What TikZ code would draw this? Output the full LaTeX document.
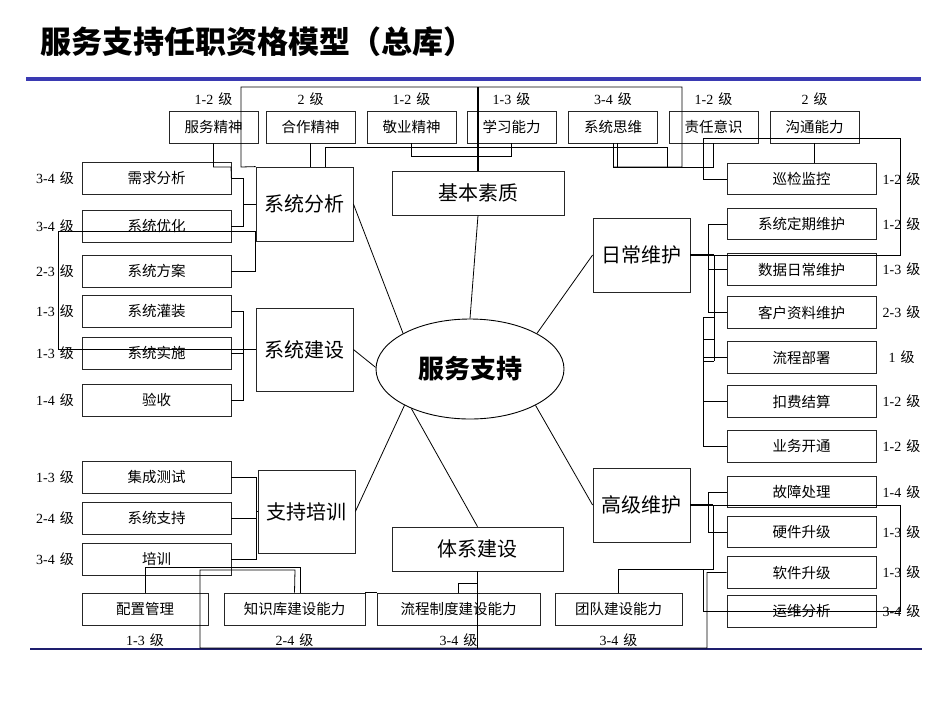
\documentclass[tikz,border=0pt]{standalone}
\usepackage{fontspec}
\usetikzlibrary{shapes.geometric}
\setmainfont{Liberation Serif}
\newfontfamily\cjk{Noto Sans CJK SC}
\newcommand\lv[1]{#1\hspace{5pt}{\cjk 级}}
\definecolor{topblue}{RGB}{58,58,178}
\definecolor{navy}{RGB}{30,30,110}
\begin{document}
\begin{tikzpicture}[x=1pt,y=-1pt,
  bx/.style={draw=black!85, line width=0.8pt, inner sep=0pt, minimum height=32pt,
    font=\cjk\fontsize{14.5}{15}\selectfont},
  catbox/.style={draw=black!85, line width=0.8pt, inner sep=0pt,
    font=\cjk\fontsize{20}{21}\selectfont},
  lab/.style={inner sep=0pt, font=\fontsize{14}{14}\selectfont},
  ln/.style={line width=0.8pt},
  tk/.style={line width=1.6pt}]
\useasboundingbox (0,0) rectangle (950,713);
% title and rules
\node[anchor=west, inner sep=0pt, font=\cjk\bfseries\fontsize{31}{31}\selectfont] (title) at (40,42) {服务支持任职资格模型（总库）};
\coordinate (ruleA) at (26,79); \coordinate (ruleB) at (921,79);
\draw[line width=4pt, topblue] (ruleA) -- (ruleB);
\coordinate (ruleC) at (30,649); \coordinate (ruleD) at (922,649);
\draw[line width=2pt, navy] (ruleC) -- (ruleD);

% top row
\foreach \n/\x/\t/\l in {t1/213.5/服务精神/1-2, t2/310.5/合作精神/2, t3/411.5/敬业精神/1-2,
  t4/511.5/学习能力/1-3, t5/613/系统思维/3-4, t6/713.5/责任意识/1-2, t7/814.5/沟通能力/2}{
  \node[bx, minimum width=89pt] (\n) at (\x,127) {\t};
  \node[lab] (\n lab) at (\x,99) {\lv{\l}};
}
% left column
\foreach \n/\y/\t/\l in {l1/178/需求分析/3-4, l2/226/系统优化/3-4, l3/271/系统方案/2-3,
  l4/311/系统灌装/1-3, l5/353/系统实施/1-3, l6/400/验收/1-4,
  l7/477/集成测试/1-3, l8/518/系统支持/2-4, l9/559/培训/3-4}{
  \node[bx, minimum width=149pt] (\n) at (156.5,\y) {\t};
  \node[lab] (\n lab) at (55,\y) {\lv{\l}};
}
% right column
\foreach \n/\y/\t/\l in {r1/179/巡检监控/1-2, r2/224/系统定期维护/1-2, r3/269.5/数据日常维护/1-3,
  r4/312.5/客户资料维护/2-3, r5/357.5/流程部署/1, r6/401.5/扣费结算/1-2, r7/446.5/业务开通/1-2,
  r8/492/故障处理/1-4, r9/532/硬件升级/1-3, r10/572.5/软件升级/1-3, r11/611.5/运维分析/3-4}{
  \node[bx, minimum width=149pt, minimum height=31.5pt] (\n) at (801.5,\y) {\t};
  \node[lab] (\n lab) at (901.5,\y) {\lv{\l}};
}
% bottom row
\foreach \n/\x/\w/\t/\l in {b1/145/126/配置管理/1-3, b2/294.5/141/知识库建设能力/2-4,
  b3/458.5/163/流程制度建设能力/3-4, b4/618.5/127/团队建设能力/3-4}{
  \node[bx, minimum width=\w pt] (\n) at (\x,609) {\t};
  \node[lab] (\n lab) at (\x,640) {\lv{\l}};
}
% category boxes
\node[catbox, minimum width=97pt, minimum height=74pt] (ca) at (304.5,204) {系统分析};
\node[catbox, minimum width=97pt, minimum height=83pt] (cb) at (304.5,349.5) {系统建设};
\node[catbox, minimum width=97pt, minimum height=83pt] (cc) at (306.5,511.5) {支持培训};
\node[catbox, minimum width=172pt, minimum height=44pt] (cj) at (478,193) {基本素质};
\node[catbox, minimum width=97pt, minimum height=74pt] (cr) at (641.5,255) {日常维护};
\node[catbox, minimum width=97pt, minimum height=74pt] (cg) at (641.5,505) {高级维护};
\node[catbox, minimum width=171pt, minimum height=44pt] (ct) at (477.5,549) {体系建设};
\node[draw=black, line width=0.9pt, ellipse, inner sep=0pt, minimum width=188pt, minimum height=100pt,
  font=\cjk\bfseries\fontsize{26}{26}\selectfont] (core) at (470,369) {服务支持};

% spokes
\draw[ln] (ca.east) -- (core.152);
\draw[ln] (cb.east) -- (core.179);
\draw[ln] (cc.east) -- (core.209);
\draw[ln] (core.214) -- (ct.north);
\draw[ln] (cj.south) -- (core.north);
\draw[ln] (core.28) -- (cr.west);
\draw[ln] (core.331) -- (cg.west);

% left brackets
\draw[ln] (l1.east) -- (243,178) -- (243,226) -- (l2.east);
\draw[ln] (243,204) -- (ca.west);
\draw[ln] (cb.west) -- (58,349.5) -- (58,231) -- (255,231) -- (255,271) -- (l3.east);
\draw[ln] (l4.east) -- (243,311) -- (243,400) -- (l6.east);
\draw[ln] (l5.east) -- (243,353);
\draw[ln] (l7.east) -- (256,477) -- (256,559) -- (l9.east);
\draw[ln] (l8.east) -- (256,518);
\draw[ln] (256,511.5) -- (cc.west);

% top connectors
\draw[ln] (t1.south) |- (231,167) -- (l1.east);
\draw[ln] (t2.south) -- (t2.south |- ca.north);
\draw[ln] (ca.north west) -- (241,167) -- (241,87) -- (682,87) -- (682,167) -- (613,167);
\draw[tk] (cj.north) -- (cj.north |- 0,87);
\draw[ln] (325,167) -- (325,147) -- (667,147) -- (667,167);
\draw[ln] (t3.south) |- (511.5,156) -- (t4.south);
\draw[ln] (t5.south) |- (713.5,167) -- (t6.south);
\draw[ln] (617,143) -- (617,167);
\draw[ln] (t7.south) -- (t7.south |- r1.north);

% right side: daily maintenance
\draw[tk] (cr.east) -- (714,255);
\draw[ln] (cr.east) -- (900,255) -- (900,138) -- (703,138) -- (703,179) -- (r1.west);
\draw[ln] (r2.west) -- (708,224) -- (708,312.5) -- (r4.west);
\draw[ln] (708,269.5) -- (r3.west);
\draw[ln] (714,255) -- (714,361);
\draw[ln] (703,317) -- (714,317);
\draw[ln] (703,339) -- (714,339);
\draw[ln] (703,361) -- (714,361);
\draw[ln] (703,317) -- (703,446.5) -- (r7.west);
\draw[ln] (703,357.5) -- (r5.west);
\draw[ln] (703,401.5) -- (r6.west);

% right side: advanced maintenance
\draw[tk] (cg.east) -- (713,505);
\draw[ln] (cg.east) -- (900,505) -- (900,611.5) -- (703,611.5) -- (703,569) -- (707,569);
\draw[ln] (r8.west) -- (708,492) -- (708,532) -- (r9.west);
\draw[ln] (713,505) -- (713,569) -- (618.5,569) -- (b4.north);
\draw[ln] (r10.west) -- (707,572.5) -- (707,648) -- (200,648) -- (200,570) -- (295,570) -- (b2.north);

% bottom connectors
\draw[ln] (b1.north) -- (145,567) -- (300,567) -- (300,593);
\draw[ln] (b2.north east) -- (b3.north west);
\draw[ln] (b3.north) |- (477.5,583);
\draw[ln] (ct.south) -- (477.5,649);
\end{tikzpicture}
\end{document}
